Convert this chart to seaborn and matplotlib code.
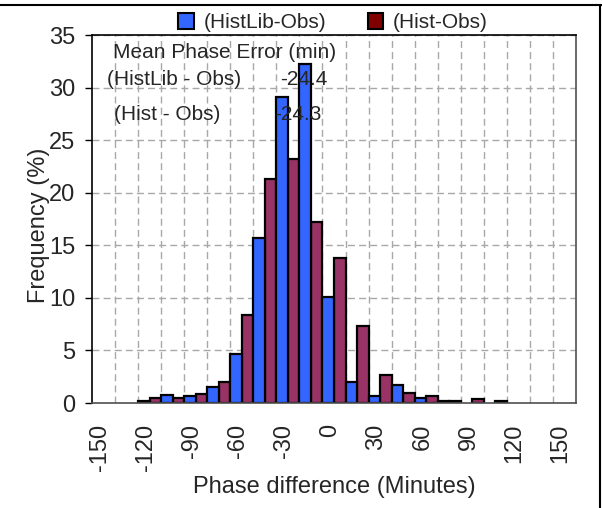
import numpy as np
import pandas as pd
import matplotlib
matplotlib.use("Agg")
import matplotlib.pyplot as plt
from matplotlib.patches import Patch
from matplotlib.lines import Line2D
import seaborn as sns

# ---- data ----
bin_starts = [-125, -110, -95, -80, -65, -50, -35, -20, -5, 10, 25, 40, 55, 70, 85, 100]
histlib_obs = [0.15, 0.8, 0.7, 1.55, 4.7, 15.7, 29.1, 32.2, 10.1, 2.0, 0.7, 1.7, 0.5, 0.15, 0.0, 0.0]
hist_obs = [0.5, 0.5, 0.9, 2.0, 8.4, 21.3, 23.2, 17.2, 13.8, 7.3, 2.65, 0.98, 0.7, 0.15, 0.4, 0.15]
series_names = ["(HistLib-Obs)", "(Hist-Obs)"]
x_ticks = [-150, -120, -90, -60, -30, 0, 30, 60, 90, 120, 150]
y_ticks = [0, 5, 10, 15, 20, 25, 30, 35]
mean_title = "Mean Phase Error (min)"
mean_labels = ["(HistLib - Obs)", "(Hist - Obs)"]
mean_values = [-24.4, -24.3]

bin_width = 15
bar_colors = ["#3366FF", "#993366"]
legend_colors = ["#3366FF", "#800000"]

sns.set_theme(style="white")
plt.rcParams["font.family"] = ["Liberation Sans", "DejaVu Sans"]

df = pd.DataFrame({
    "center": [b + bin_width / 2 for b in bin_starts] * 2,
    "freq": histlib_obs + hist_obs,
    "series": [series_names[0]] * len(bin_starts) + [series_names[1]] * len(bin_starts),
})
edges = list(bin_starts) + [bin_starts[-1] + bin_width]

fig = plt.figure(figsize=(6.02, 5.08), dpi=100)
ax = fig.add_axes([92 / 602, 105 / 508, 484 / 602, 368 / 508])

sns.histplot(data=df, x="center", weights="freq", hue="series",
             hue_order=series_names, palette=bar_colors, bins=edges,
             multiple="dodge", shrink=1, stat="count", alpha=1,
             edgecolor="black", linewidth=1.6, legend=False, ax=ax)
for p in ax.patches:
    if p.get_height() <= 0:
        p.set_visible(False)

ax.set_xlim(-155, 160)
ax.set_ylim(0, 35)
ax.set_xticks(x_ticks)
ax.set_xticklabels([str(t) for t in x_ticks], rotation=90, fontsize=17)
ax.set_xticks(np.arange(-140, 150, 15), minor=True)
ax.set_yticks(y_ticks)
ax.set_yticklabels([str(t) for t in y_ticks], fontsize=17)
ax.tick_params(axis="x", which="both", length=0, pad=15)
ax.tick_params(axis="y", which="major", length=5, width=1, pad=7, left=True, color="black")

ax.set_axisbelow(True)
ax.grid(False)
ax.yaxis.grid(True, which="major", color="#a8a8a8", linestyle=(0, (5, 3)), linewidth=1)
ax.xaxis.grid(True, which="minor", color="#a8a8a8", linestyle=(0, (5, 3)), linewidth=1)

for side in ["left", "top"]:
    ax.spines[side].set_color("black")
    ax.spines[side].set_linewidth(1.2)
for side in ["right", "bottom"]:
    ax.spines[side].set_color("#505050")
    ax.spines[side].set_linewidth(1.2)

ax.set_xlabel("Phase difference (Minutes)", fontsize=17)
ax.xaxis.set_label_coords(0.5, -0.227)
ax.xaxis.label.set_verticalalignment("center")
ax.set_ylabel("Frequency (%)", fontsize=17)
ax.yaxis.set_label_coords(-0.11, 0.484)
ax.yaxis.label.set_verticalalignment("center")

# mean phase error annotation
ax.text(0.043, 0.952, mean_title, transform=ax.transAxes, fontsize=15, va="center", ha="left")
label_x = [0.032, 0.046]
value_x = [0.388, 0.376]
rows_y = [0.878, 0.783]
for lab, val, lx, vx, ry in zip(mean_labels, mean_values, label_x, value_x, rows_y):
    ax.text(lx, ry, lab, transform=ax.transAxes, fontsize=15, va="center", ha="left")
    ax.text(vx, ry, f"{val:.1f}", transform=ax.transAxes, fontsize=15, va="center", ha="left")

handles = [Patch(facecolor=c, edgecolor="black", linewidth=1.5) for c in legend_colors]
fig.legend(handles, series_names, loc="center", bbox_to_anchor=(0.553, 0.956), ncol=2,
           frameon=False, fontsize=15, handlelength=0.75, handleheight=0.85,
           handletextpad=0.45, columnspacing=2.0, borderaxespad=0)

# figure frame lines (top and right)
fig.add_artist(Line2D([0, 1], [1 - 5 / 508, 1 - 5 / 508], transform=fig.transFigure,
                      color="black", linewidth=1.5))
fig.add_artist(Line2D([600 / 602, 600 / 602], [0, 1 - 5 / 508], transform=fig.transFigure,
                      color="black", linewidth=1.5))

fig.savefig("out.png", dpi=100)
